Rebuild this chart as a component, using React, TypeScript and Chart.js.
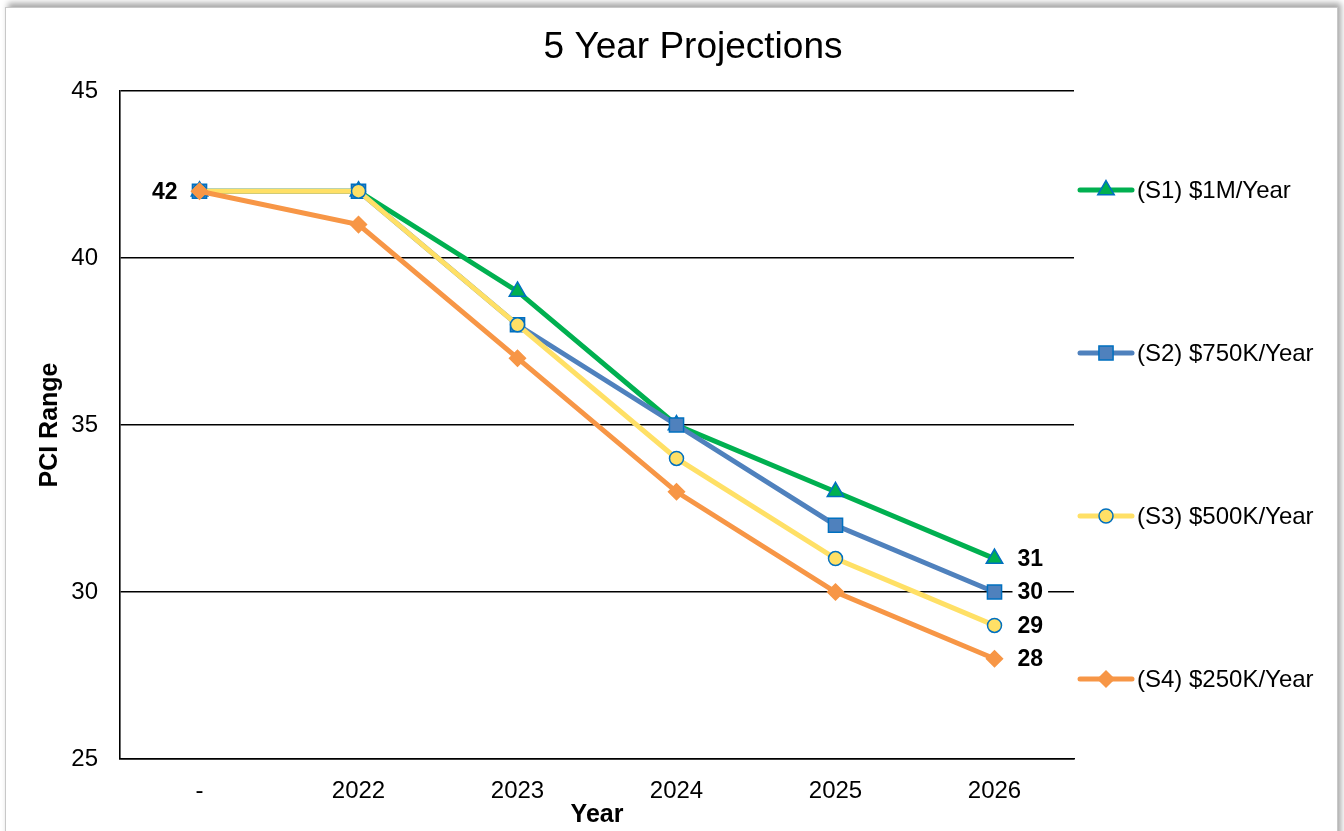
import React, { useEffect, useRef } from 'react';
import { Chart, registerables } from 'chart.js';
import { drawPoint } from 'chart.js/helpers';

Chart.register(...registerables);

// Projection years and PCI values per funding scenario
const years = ['-', '2022', '2023', '2024', '2025', '2026'];
const s1Values = [42, 42, 39, 35, 33, 31];
const s2Values = [42, 42, 38, 35, 32, 30];
const s3Values = [42, 42, 38, 34, 31, 29];
const s4Values = [42, 41, 37, 33, 30, 28];
const seriesNames = ['(S1) $1M/Year', '(S2) $750K/Year', '(S3) $500K/Year', '(S4) $250K/Year'];
const yMin = 25;
const yMax = 45;
const yStep = 5;

const chartTitle = '5 Year Projections';
const xTitle = 'Year';
const yTitle = 'PCI Range';

const FONT = '"Liberation Sans", Arial, Helvetica, sans-serif';

const styles = [
  { line: '#00B050', fill: '#00B050', border: '#0070C0', point: 'triangle', radius: 9.5 },
  { line: '#4F81BD', fill: '#4F81BD', border: '#0070C0', point: 'rect', radius: 10 },
  { line: '#FFE066', fill: '#FFE066', border: '#0070C0', point: 'circle', radius: 7 },
  { line: '#F79646', fill: '#F79646', border: '#F79646', point: 'rectRot', radius: 8 },
];

const seriesValues = [s1Values, s2Values, s3Values, s4Values];

const decorPlugin = {
  id: 'decor',
  afterDatasetsDraw(chart: any) {
    const { ctx, chartArea } = chart;
    ctx.save();
    ctx.font = `bold 23px ${FONT}`;
    ctx.textBaseline = 'middle';
    // value labels at the end of every series
    chart.data.datasets.forEach((ds: any, i: number) => {
      const meta = chart.getDatasetMeta(i);
      const last = meta.data[meta.data.length - 1];
      const text = String(ds.data[ds.data.length - 1]);
      const w = ctx.measureText(text).width;
      const x = last.x + 23;
      ctx.fillStyle = '#fff';
      ctx.fillRect(x - 5, last.y - 12, w + 10, 24);
      ctx.fillStyle = '#000';
      ctx.textAlign = 'left';
      ctx.fillText(text, x, last.y + 1);
    });
    // shared starting value
    const m0 = chart.getDatasetMeta(0);
    const first = m0.data[0];
    ctx.textAlign = 'right';
    ctx.fillStyle = '#000';
    ctx.fillText(String(chart.data.datasets[0].data[0]), first.x - 22, first.y + 1);

    // chart title
    ctx.font = `37px ${FONT}`;
    ctx.textAlign = 'center';
    ctx.fillText(chartTitle, 693, 48);

    // axis titles
    const cx = (chartArea.left + chartArea.right) / 2;
    const cy = (chartArea.top + chartArea.bottom) / 2;
    ctx.font = `bold 25px ${FONT}`;
    ctx.fillText(xTitle, cx, 815);
    ctx.save();
    ctx.translate(50, cy);
    ctx.rotate(-Math.PI / 2);
    ctx.fillText(yTitle, 0, 0);
    ctx.restore();

    // legend on the right
    const lx = chartArea.right + 4;
    ctx.font = `24px ${FONT}`;
    ctx.textAlign = 'left';
    seriesNames.forEach((name, i) => {
      const st = styles[i];
      const y = chartArea.top + 99 + i * 163;
      ctx.strokeStyle = st.line;
      ctx.lineWidth = 5;
      ctx.lineCap = 'round';
      ctx.beginPath();
      ctx.moveTo(lx + 2, y);
      ctx.lineTo(lx + 54, y);
      ctx.stroke();
      ctx.fillStyle = st.fill;
      ctx.strokeStyle = st.border;
      ctx.lineWidth = 1.5;
      drawPoint(ctx, { pointStyle: st.point, radius: st.radius, rotation: 0, borderWidth: 1.5 } as any, lx + 28, y);
      ctx.fillStyle = '#000';
      ctx.fillText(name, lx + 59, y + 1);
    });
    ctx.restore();
  },
};

export default function App() {
  const canvasRef = useRef<HTMLCanvasElement | null>(null);

  useEffect(() => {
    const canvas = canvasRef.current;
    if (!canvas) return;
    const chart = new Chart(canvas, {
      type: 'line',
      data: {
        labels: years,
        datasets: seriesValues.map((vals, i) => ({
          label: seriesNames[i],
          data: vals,
          borderColor: styles[i].line,
          backgroundColor: styles[i].fill,
          borderWidth: 5,
          pointStyle: styles[i].point as any,
          pointRadius: styles[i].radius,
          pointBackgroundColor: styles[i].fill,
          pointBorderColor: styles[i].border,
          pointBorderWidth: 1.5,
          tension: 0,
          fill: false,
          order: seriesValues.length - i,
        })),
      },
      options: {
        responsive: false,
        animation: false,
        devicePixelRatio: 1,
        layout: { padding: { left: 0, top: 91, right: 270, bottom: 0 } },
        plugins: {
          legend: { display: false },
          title: { display: false },
          tooltip: { enabled: false },
        },
        scales: {
          x: {
            offset: true,
            grid: { display: false },
            border: { display: true, color: '#000', width: 1.6 },
            ticks: { color: '#000', font: { family: FONT, size: 24 }, padding: 10 },
            afterFit: (scale: any) => {
              scale.height = 72;
            },
          },
          y: {
            min: yMin,
            max: yMax,
            grid: { color: '#000', lineWidth: 1.6, drawTicks: false },
            border: { display: true, color: '#000', width: 1.6 },
            ticks: { stepSize: yStep, color: '#000', font: { family: FONT, size: 24 }, padding: 22 },
            afterFit: (scale: any) => {
              scale.width = 120;
            },
          },
        },
      },
      plugins: [decorPlugin],
    });
    return () => chart.destroy();
  }, []);

  return (
    <div style={{ position: 'fixed', left: 0, top: 0, width: 1344, height: 831, background: '#fff', overflow: 'hidden' }}>
      <div
        style={{
          position: 'absolute',
          left: 5,
          top: 7,
          width: 1331,
          height: 900,
          border: '1px solid #c8c8c8',
          boxShadow: '3px -4px 6px rgba(0,0,0,0.35)',
          background: '#fff',
        }}
      />
      <canvas ref={canvasRef} width={1344} height={831} style={{ position: 'absolute', left: 0, top: 0, width: 1344, height: 831 }} />
    </div>
  );
}
